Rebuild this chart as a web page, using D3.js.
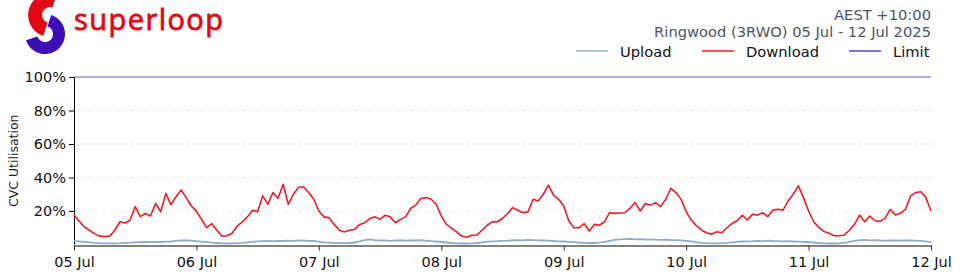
<!DOCTYPE html>
<html>
<head>
<meta charset="utf-8">
<script src="https://cdn.jsdelivr.net/npm/d3@7"></script>
<style>
  body { margin: 0; background: #fff; }
  svg { display: block; font-family: "DejaVu Sans", sans-serif; }
</style>
</head>
<body>
<svg id="chart" width="960" height="275"></svg>
<script>
// hourly samples, 05 Jul 00:00 -> 12 Jul 00:00
const download = [
  17.6,14,10.5,8.5,6.5,5,4.7,5,8.5,13.6,12.8,14.5,22.6,16.6,18.5,17,24.5,19.5,30.5,23.8,28.5,32.5,28,23,
  19.8,15,10,12.5,8.5,5,5.2,6.7,11,13.5,16.5,20.5,19.5,29,24,31,27.5,36,24,30,34,34.5,31,27,
  20,16.5,16,12,8.5,7.5,8.5,9,12,13,15.5,16.5,15,17.5,16.5,13,15,16.5,21.5,23.5,27.5,28,27,24,
  17,12,9.8,7.5,5,4.3,5.5,5.7,8.5,11.5,13.5,13.6,15.5,18.5,22,20.5,19,19.5,27,26,30,35.5,29.5,27,
  23,14,10,10,12.5,8,12,11.5,13.6,19,18.6,18.8,19,21.6,25,20,24.5,23.5,25,22.6,27,33.5,31,27,
  19.6,14.6,11.2,8.7,7,6.2,7.6,7,10,12.5,14.2,17.5,14.6,18,17.6,19,16.6,20.5,21,20.5,26,30,35,28,
  20,13.6,10.2,7.8,6.7,5.2,5.2,5.7,8.5,12,17.6,13.5,17,14.2,13.8,15.6,21,17.6,18.6,21,29,31,31.5,28,20
];
const upload = [
  2.0,1.9,1.6,1.3,1.0,0.8,0.7,0.7,0.7,0.8,1.0,1.1,1.3,1.4,1.5,1.4,1.6,1.5,1.7,1.8,2.2,2.5,2.4,2.3,
  2.0,1.7,1.4,1.1,0.9,0.7,0.6,0.7,0.8,1.0,1.3,1.6,1.9,2.0,2.1,2.0,2.2,2.1,2.3,2.2,2.4,2.3,2.2,2.1,
  1.7,1.3,1.1,0.9,0.8,0.8,0.9,1.2,1.8,2.6,3.0,2.6,2.4,2.4,2.2,2.5,2.4,2.3,2.5,2.4,2.6,2.3,2.0,1.8,
  1.5,1.2,0.9,0.7,0.6,0.6,0.7,0.9,1.3,1.7,1.9,2.0,2.2,2.3,2.5,2.6,2.5,2.7,2.6,2.5,2.4,2.3,2.1,1.9,
  1.8,1.6,1.4,1.2,1.0,0.9,0.9,1.1,1.5,2.2,2.8,3.0,3.2,3.3,3.1,3.2,3.0,3.1,2.9,2.8,2.9,2.7,2.6,2.5,
  2.2,1.8,1.4,1.0,0.8,0.7,0.7,0.8,1.0,1.3,1.6,1.8,1.9,2.0,2.2,2.0,2.3,2.1,2.0,1.9,2.0,1.8,1.7,1.6,
  1.5,1.2,0.9,0.7,0.6,0.6,0.7,1.0,1.6,2.2,2.6,2.7,2.5,2.6,2.4,2.3,2.5,2.4,2.3,2.4,2.5,2.3,2.2,1.9,1.4
];
const limitValue = 100;
const dayLabels = ["05 Jul", "06 Jul", "07 Jul", "08 Jul", "09 Jul", "10 Jul", "11 Jul", "12 Jul"];
const yTicks = [20, 40, 60, 80, 100];
const legendItems = [
  { name: "Upload", color: "#8fb3d9" },
  { name: "Download", color: "#ee1c25" },
  { name: "Limit", color: "#4b4bc4" }
];

const svg = d3.select("#chart");
const margin = { left: 74, right: 29, top: 77, bottom: 30.5 };
const W = 960, H = 275;

const x = d3.scaleLinear().domain([0, 168]).range([margin.left, W - margin.right]);
const y = d3.scaleLinear().domain([0, 100]).range([H - margin.bottom, margin.top]);

// gridlines
svg.append("g")
  .selectAll("line")
  .data(yTicks.filter(d => d < 100))
  .enter().append("line")
  .attr("x1", x(0)).attr("x2", x(168))
  .attr("y1", d => y(d)).attr("y2", d => y(d))
  .attr("stroke", "#e1e8f1")
  .attr("stroke-dasharray", "4,3")
  .attr("stroke-width", 1);

// y axis
const yAxis = svg.append("g")
  .attr("transform", "translate(" + x(0) + ",0)")
  .call(d3.axisLeft(y).tickValues(yTicks).tickFormat(d => d + "%").tickSize(5).tickSizeOuter(0));
yAxis.select(".domain").attr("stroke", "#000").attr("d", "M0.5," + y(100) + "V" + y(0));
yAxis.selectAll(".tick line").attr("stroke", "#000");
yAxis.selectAll("text")
  .attr("font-family", "DejaVu Sans").attr("font-size", 14.5).attr("fill", "#111").attr("x", -8);

svg.append("text")
  .attr("transform", "translate(18," + ((y(0) + y(100)) / 2) + ") rotate(-90)")
  .attr("text-anchor", "middle")
  .attr("font-size", 12.5)
  .attr("fill", "#222")
  .text("CVC Utilisation");

// x axis
const xAxis = svg.append("g")
  .attr("transform", "translate(0," + (y(0) + 1) + ")")
  .call(d3.axisBottom(x).tickValues(d3.range(0, 169, 24)).tickFormat((d, i) => dayLabels[i]).tickSize(5).tickSizeOuter(0));
xAxis.select(".domain").attr("stroke", "#808080").attr("stroke-width", 2);
xAxis.selectAll(".tick line").attr("stroke", "#333");
xAxis.selectAll("text")
  .attr("font-family", "DejaVu Sans").attr("font-size", 14.5).attr("fill", "#111").attr("dy", "0.9em");

// lines
const line = d3.line().x((d, i) => x(i)).y(d => y(d));

svg.append("path")
  .datum(upload)
  .attr("fill", "none")
  .attr("stroke", "#8fabc9")
  .attr("stroke-width", 1.8)
  .attr("d", line);

svg.append("path")
  .datum(download)
  .attr("fill", "none")
  .attr("stroke", legendItems[1].color)
  .attr("stroke-width", 1.6)
  .attr("stroke-linejoin", "round")
  .attr("d", line);

svg.append("line")
  .attr("x1", x(0)).attr("x2", x(168))
  .attr("y1", y(limitValue)).attr("y2", y(limitValue))
  .attr("stroke", "#6262d4")
  .attr("stroke-width", 1);

// header text
svg.append("text")
  .attr("x", 931).attr("y", 20)
  .attr("text-anchor", "end")
  .attr("font-size", 14.7)
  .attr("fill", "#4a5568")
  .text("AEST +10:00");
svg.append("text")
  .attr("x", 931).attr("y", 37)
  .attr("text-anchor", "end")
  .attr("font-size", 14.7)
  .attr("fill", "#4a5568")
  .text("Ringwood (3RWO) 05 Jul - 12 Jul 2025");

// legend
const legendX = [576, 702, 849];
const legend = svg.append("g");
legendItems.forEach((item, i) => {
  legend.append("line")
    .attr("x1", legendX[i]).attr("x2", legendX[i] + 32)
    .attr("y1", 51).attr("y2", 51)
    .attr("stroke", item.color).attr("stroke-width", 1.5);
  legend.append("text")
    .attr("x", legendX[i] + 44).attr("y", 57)
    .attr("font-size", 14.7)
    .attr("fill", "#111")
    .text(item.name);
});

// logo
const logo = svg.append("g");
logo.append("path")
  .attr("transform", "translate(50,15)")
  .attr("d", d3.arc().innerRadius(8).outerRadius(22).startAngle(Math.PI * 1.1).endAngle(Math.PI * 2.1)())
  .attr("fill", "#e30613");
logo.append("path")
  .attr("transform", "translate(45,34)")
  .attr("d", d3.arc().innerRadius(8).outerRadius(20).startAngle(Math.PI * 0.1).endAngle(Math.PI * 1.4)())
  .attr("fill", "#3d0db8");
logo.append("text")
  .attr("x", 74).attr("y", 30)
  .attr("font-family", "Open Sans")
  .attr("font-size", 29)
  .attr("textLength", 149)
  .attr("fill", "#e30613")
  .attr("stroke", "#e30613")
  .attr("stroke-width", 0.8)
  .text("superloop");
</script>
</body>
</html>
